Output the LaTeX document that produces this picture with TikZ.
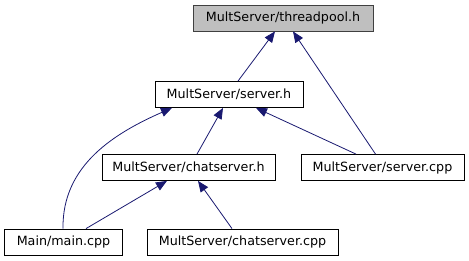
\documentclass[tikz,border=0pt]{standalone}
\usepackage{fontspec}
\setmainfont{DejaVu Sans}
\usetikzlibrary{arrows.meta}
\definecolor{midnightblue}{HTML}{191970}
\definecolor{grey75}{HTML}{BFBFBF}
\definecolor{grey25}{HTML}{404040}

\begin{document}
\begin{tikzpicture}[x=1pt,y=-1pt]
	\tikzset{file/.style={draw=black,fill=white,line width=0.8pt,inner sep=0pt,minimum height=26pt,font=\fontsize{12.7}{15}\selectfont}}
	\tikzset{root/.style={file,fill=grey75,draw=grey25}}
	\tikzset{dep/.style={draw=midnightblue,line width=0.8pt,-{Triangle[length=11pt,width=9pt]}}}
	\useasboundingbox (0,0) rectangle (469,261);
	\node[root,minimum width=180pt] (threadpool) at (283,18) {MultServer/threadpool.h};
	\node[file,minimum width=148pt] (serverh) at (229,94.5) {MultServer/server.h};
	\node[file,minimum width=173pt] (chatserverh) at (188.5,167.5) {MultServer/chatserver.h};
	\node[file,minimum width=163pt] (servercpp) at (382.5,167.5) {MultServer/server.cpp};
	\node[file,minimum width=118pt] (maincpp) at (63.5,242) {Main/main.cpp};
	\node[file,minimum width=191pt] (chatservercpp) at (242.5,242) {MultServer/chatserver.cpp};
	\draw[dep] ([xshift=9pt]serverh.north) -- ([xshift=-8pt]threadpool.south);
	\draw[dep] ([xshift=-7pt]servercpp.north) -- ([xshift=10pt]threadpool.south);
	\draw[dep] ([xshift=8.5pt]chatserverh.north) -- ([xshift=-6pt]serverh.south);
	\draw[dep] ([xshift=-26.5pt]servercpp.north) -- ([xshift=27pt]serverh.south);
	\draw[dep] ([xshift=-0.5pt]maincpp.north) .. controls (62,165) and (115,133) .. ([xshift=-57pt]serverh.south);
	\draw[dep] ([xshift=22.5pt]maincpp.north) -- ([xshift=-21.5pt]chatserverh.south);
	\draw[dep] ([xshift=-10.5pt]chatservercpp.north) -- ([xshift=9.5pt]chatserverh.south);
\end{tikzpicture}
\end{document}
